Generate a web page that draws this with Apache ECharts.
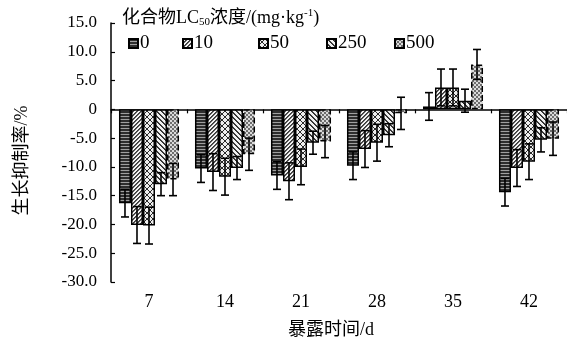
<!DOCTYPE html>
<html>
<head>
<meta charset="utf-8">
<script src="https://cdn.jsdelivr.net/npm/echarts@6/dist/echarts.min.js"></script>
<style>html,body{margin:0;padding:0;background:#fff;}#main{width:567px;height:347px;}</style>
</head>
<body>
<div id="main"></div>
<script>
var categories = ['7', '14', '21', '28', '35', '42'];
var seriesNames = ['0', '10', '50', '250', '500'];
var vals0 = [-16.3, -10.3, -11.5, -9.8, 0.5, -14.4];
var vals10 = [-20.1, -10.9, -12.5, -6.9, 3.8, -10.2];
var vals50 = [-20.2, -11.7, -10.0, -5.8, 3.8, -9.1];
var vals250 = [-13.0, -10.2, -5.8, -4.5, 1.5, -5.3];
var vals500 = [-12.2, -7.8, -5.6, -0.7, 7.8, -5.1];
var err0 = [2.4, 2.4, 2.4, 2.4, 2.4, 2.4];
var err10 = [3.2, 3.2, 3.2, 3.2, 3.2, 3.2];
var err50 = [3.2, 3.2, 3.1, 3.2, 3.2, 3.1];
var err250 = [2.0, 2.0, 2.0, 2.0, 2.0, 2.1];
var err500 = [2.8, 2.8, 2.8, 2.8, 2.6, 2.9];

var allVals = [vals0, vals10, vals50, vals250, vals500];
var allErrs = [err0, err10, err50, err250, err500];

function px(ctx, x, y, c) { ctx.fillStyle = c; ctx.fillRect(x, y, 1, 1); }
function mkPattern(k) {
  var c = document.createElement('canvas');
  var ctx, i, j;
  if (k === 0) {
    c.width = 4; c.height = 3; ctx = c.getContext('2d');
    ctx.fillStyle = '#a0a0a0'; ctx.fillRect(0, 0, 4, 3);
    ctx.fillStyle = '#2e2e2e'; ctx.fillRect(0, 0, 4, 2);
  } else if (k === 1) {
    c.width = 4; c.height = 4; ctx = c.getContext('2d');
    ctx.fillStyle = '#f2f2f2'; ctx.fillRect(0, 0, 4, 4);
    for (i = 0; i < 4; i++) { px(ctx, i, 3 - i, '#3a3a3a'); px(ctx, (i + 1) % 4, 3 - i, '#5a5a5a'); }
  } else if (k === 2) {
    c.width = 6; c.height = 6; ctx = c.getContext('2d');
    ctx.fillStyle = '#eeeeee'; ctx.fillRect(0, 0, 6, 6);
    for (j = 0; j < 6; j++) { px(ctx, j, j, '#2a2a2a'); px(ctx, 5 - j, j, '#2a2a2a'); }
  } else if (k === 3) {
    c.width = 5; c.height = 5; ctx = c.getContext('2d');
    ctx.fillStyle = '#f0f0f0'; ctx.fillRect(0, 0, 5, 5);
    for (i = 0; i < 5; i++) { px(ctx, i, i, '#2e2e2e'); px(ctx, (i + 1) % 5, i, '#444444'); }
  } else {
    c.width = 4; c.height = 4; ctx = c.getContext('2d');
    ctx.fillStyle = '#dadada'; ctx.fillRect(0, 0, 4, 4);
    ctx.fillStyle = '#6e6e6e'; ctx.fillRect(0, 0, 2, 2); ctx.fillRect(2, 2, 2, 2);
  }
  return { image: c, repeat: 'repeat' };
}

var CAT_GAP = 0.21;
var FONT = '"Liberation Serif", "Times New Roman", "Noto Sans CJK SC", serif';

var series = [];
seriesNames.forEach(function (name, si) {
  series.push({
    name: name,
    type: 'bar',
    xAxisIndex: 0,
    barGap: '0%',
    barCategoryGap: (CAT_GAP * 100) + '%',
    data: allVals[si],
    itemStyle: {
      color: mkPattern(si),
      borderColor: '#000',
      borderWidth: 1.5,
      borderType: si === 4 ? 'dashed' : 'solid'
    }
  });
});
seriesNames.forEach(function (name, si) {
  var d = categories.map(function (c, ci) { return [ci, allVals[si][ci], allErrs[si][ci]]; });
  series.push({
    name: name + '_err',
    type: 'custom',
    xAxisIndex: 0,
    data: d,
    z: 5,
    encode: { x: 0, y: 1 },
    renderItem: function (params, api) {
      var ci = api.value(0), v = api.value(1), e = api.value(2);
      var band = api.size([1, 0])[0];
      var bw = band * (1 - CAT_GAP) / 5;
      var p = api.coord([ci, v]);
      var x = p[0] + (si - 2) * bw;
      var yt = api.coord([ci, v + e])[1];
      var yb = api.coord([ci, v - e])[1];
      var cap = 4;
      var st = { stroke: '#000', lineWidth: 1.6 };
      return {
        type: 'group',
        children: [
          { type: 'line', shape: { x1: x, y1: yt, x2: x, y2: yb }, style: st },
          { type: 'line', shape: { x1: x - cap, y1: yt, x2: x + cap, y2: yt }, style: st },
          { type: 'line', shape: { x1: x - cap, y1: yb, x2: x + cap, y2: yb }, style: st }
        ]
      };
    }
  });
});

var legendX = [128, 182, 258, 326, 394];
var legends = seriesNames.map(function (name, si) {
  return {
    data: [name],
    left: legendX[si],
    top: 34,
    padding: 0,
    itemWidth: 9,
    itemHeight: 9,
    itemGap: 0,
    icon: 'rect',
    selectedMode: false,
    textStyle: { fontFamily: FONT, fontSize: 19, color: '#000', padding: [0, 0, 0, -3] }
  };
});

var option = {
  animation: false,
  textStyle: { fontFamily: FONT },
  title: {
    text: '化合物LC{sub|50}浓度/(mg·kg{sup|-1})',
    left: 122,
    top: 8,
    padding: 0,
    textStyle: {
      fontFamily: FONT, fontSize: 18, fontWeight: 'normal', color: '#000',
      rich: {
        sub: { fontFamily: FONT, fontSize: 11, verticalAlign: 'bottom', padding: [9, 0, 0, 0], color: '#000' },
        sup: { fontFamily: FONT, fontSize: 11, verticalAlign: 'top', padding: [0, 0, 7, 0], color: '#000' }
      }
    }
  },
  legend: legends,
  grid: { left: 111, top: 23, right: 0, bottom: 65, containLabel: false },
  xAxis: [
    {
      type: 'category',
      data: categories,
      position: 'bottom',
      axisLine: { show: false, onZero: false },
      axisTick: { show: false },
      axisLabel: { fontFamily: FONT, fontSize: 18, color: '#000', margin: 11 },
      name: '暴露时间/d',
      nameLocation: 'middle',
      nameGap: 39,
      nameTextStyle: { fontFamily: FONT, fontSize: 18, color: '#000', padding: [0, 16, 0, 0] }
    },
    {
      type: 'category',
      data: categories,
      position: 'bottom',
      axisLine: { show: true, onZero: true, lineStyle: { color: '#000', width: 1.5 } },
      axisTick: { show: true, length: 4, inside: false, lineStyle: { color: '#000', width: 1.2 } },
      axisLabel: { show: false }
    }
  ],
  yAxis: {
    type: 'value',
    min: -30,
    max: 15,
    interval: 5,
    axisLine: { show: true, lineStyle: { color: '#000', width: 1.5 } },
    axisTick: { show: true, inside: true, length: 4, lineStyle: { color: '#000', width: 1.2 } },
    splitLine: { show: false },
    axisLabel: {
      fontFamily: FONT, fontSize: 17, color: '#000', margin: 14,
      formatter: function (v) { return v === 0 ? '0' : v.toFixed(1); }
    },
    name: '生长抑制率/%',
    nameLocation: 'middle',
    nameRotate: 90,
    nameGap: 80,
    nameTextStyle: { fontFamily: FONT, fontSize: 18, color: '#000', padding: [0, 16, 0, 0] }
  },
  series: series
};

var chart = echarts.init(document.getElementById('main'), null, { renderer: 'canvas' });
chart.setOption(option);
</script>
</body>
</html>
